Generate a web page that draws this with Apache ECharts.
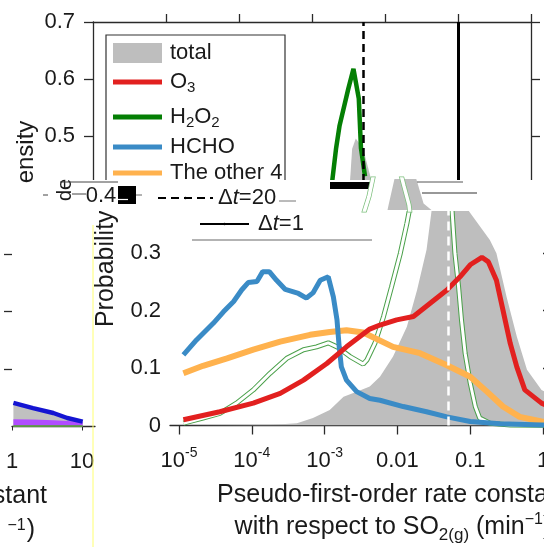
<!DOCTYPE html>
<html><head><meta charset="utf-8">
<script src="https://cdn.jsdelivr.net/npm/echarts@6/dist/echarts.min.js"></script>
<style>html,body{margin:0;padding:0;background:#fff}#c{width:544px;height:547px}</style>
</head><body><div id="c"></div>
<script>
// ---------- DATA ----------
// lower panel: x = log10(rate constant, min^-1), y = probability
const lowerExpTicks = [-5, -4, -3, -2, -1, 0];
const lowerTickLabels = ['10{sup|-5}', '10{sup|-4}', '10{sup|-3}', '0.01', '0.1', '1'];
const probTicks = [0, 0.1, 0.2, 0.3];

const totalX = [-5.1,-4.02,-3.75,-3.38,-3.16,-2.93,-2.74,-2.56,-2.38,-2.24,-2.06,-1.87,-1.73,-1.60,-1.53,-1.45,-1.30,-1.15,-1.05,-0.73,-0.64,-0.50,-0.36,-0.22,-0.02,0.23,0.6,1.0];
const totalY = [0,0.001,0.001,0.004,0.013,0.027,0.050,0.059,0.068,0.085,0.120,0.172,0.236,0.306,0.375,0.45,0.50,0.45,0.379,0.323,0.300,0.224,0.155,0.097,0.062,0.044,0.020,0.010];

const o3X = [-4.94,-4.44,-3.98,-3.61,-3.29,-2.97,-2.70,-2.38,-2.24,-2.01,-1.78,-1.55,-1.32,-1.14,-1.00,-0.84,-0.75,-0.64,-0.55,-0.45,-0.36,-0.25,-0.02,0.3,0.6,1.0];
const o3Y = [0.010,0.024,0.039,0.056,0.079,0.108,0.137,0.168,0.175,0.184,0.190,0.213,0.236,0.259,0.280,0.293,0.285,0.253,0.201,0.143,0.102,0.062,0.039,0.020,0.010,0.004];

const h2o2X = [-4.94,-4.67,-4.44,-4.21,-3.98,-3.75,-3.52,-3.29,-3.11,-2.95,-2.83,-2.65,-2.47,-2.42,-2.31,-2.19,-2.08,-1.96,-1.87,-1.80,-1.72,-1.67,-1.55,-1.48,-1.41,-1.38,-1.32,-1.25,-1.21,-1.16,-1.12,-1.07,-1.00,-0.93,-0.87,-0.73,-0.45,0.0,0.5,1.0];
const h2o2Y = [0.004,0.013,0.021,0.039,0.062,0.091,0.117,0.132,0.137,0.144,0.137,0.120,0.107,0.114,0.143,0.190,0.242,0.300,0.352,0.399,0.479,0.519,0.583,0.618,0.566,0.479,0.430,0.375,0.300,0.242,0.184,0.126,0.074,0.033,0.013,0.004,0.001,0.0003,0.0001,0.0];

const hchoX = [-4.94,-4.76,-4.53,-4.39,-4.25,-4.14,-4.05,-3.93,-3.85,-3.76,-3.66,-3.54,-3.36,-3.25,-3.16,-3.06,-2.95,-2.88,-2.83,-2.80,-2.77,-2.70,-2.56,-2.38,-2.24,-1.92,-1.60,-1.32,-1.00,-0.59,-0.02,0.5,1.0];
const hchoY = [0.123,0.149,0.178,0.198,0.216,0.236,0.249,0.251,0.268,0.268,0.253,0.237,0.230,0.222,0.231,0.253,0.259,0.224,0.184,0.137,0.102,0.079,0.059,0.047,0.044,0.033,0.024,0.015,0.007,0.003,0.001,0.0005,0.0002];

const otherX = [-4.94,-4.67,-4.34,-3.98,-3.61,-3.20,-2.93,-2.70,-2.47,-2.06,-1.69,-1.32,-1.00,-0.77,-0.55,-0.32,-0.02,0.5,1.0];
const otherY = [0.091,0.104,0.117,0.132,0.146,0.158,0.163,0.166,0.162,0.137,0.126,0.105,0.085,0.059,0.033,0.015,0.007,0.002,0.001];

const refRateExp = -1.301; // white dashed reference line (0.05 min^-1)

// upper panel (shifted copy of the same figure): x in decade units from the frame, y = density
const upperXTicks = [1, 2, 3, 4, 5, 6];
const upperYTicks = [0.5, 0.6, 0.7];
const upperH2O2X = [3.27,3.33,3.378,3.497,3.568,3.641,3.671,3.726];
const upperH2O2Y = [0.414,0.479,0.519,0.583,0.618,0.566,0.479,0.430];
const upperTotalX = [3.52,3.55,3.60,3.70,3.82];
const upperTotalY = [0.42,0.478,0.496,0.478,0.42];
const upperDashX = 3.70;
const upperSolidX = 5.0;

// small panel at the lower left
const miniXTicks = [0, 1];
const miniTickLabels = ['1', '10'];
const miniX = [0.02, 0.30, 0.59, 0.79, 1.01];
const miniBlueY = [0.041, 0.032, 0.0235, 0.0148, 0.0084];
const miniPurpleY = [0.0125, 0.012, 0.011, 0.0095, 0.0084];
const miniGreenY = [0.001, 0.001, 0.001, 0.001, 0.001];
const miniYTicks = [0.1, 0.2, 0.3];

// ---------- CHART ----------
const FONT = '"Liberation Sans", Arial, sans-serif';
const TXT = '#1a1a1a';
const AX = '#2a2a2a';
const C = {gray:'#bebebe', red:'#e2201f', green:'#047f04', blue:'#3a8bc6', orange:'#ffb24e'};
const pairs = (xs, ys) => xs.map((x, i) => [x, ys[i]]);

const chart = echarts.init(document.getElementById('c'), null, {renderer:'canvas', width:544, height:547});

function lineSeries(name, xi, yi, xs, ys, color, width, z, extra) {
  return Object.assign({
    name, type:'line', xAxisIndex:xi, yAxisIndex:yi, data:pairs(xs, ys),
    symbol:'none', lineStyle:{color, width}, itemStyle:{color}, z, silent:true, animation:false
  }, extra || {});
}

function itemLegend(name, color, top, h, fmt) {
  return {
    data:[{name, icon:'rect', itemStyle:{color}}], left:113, top, orient:'vertical',
    itemWidth:49, itemHeight:h, padding:0, selectedMode:false, z:5,
    formatter: () => fmt,
    textStyle:{fontSize:22, lineHeight:26, color:TXT, fontFamily:FONT, padding:[0,0,0,3],
      rich:{sub:{fontSize:15, lineHeight:16, verticalAlign:'bottom', fontFamily:FONT, color:TXT}}}
  };
}

const hiddenAxis = {axisLine:{show:false}, axisTick:{show:false}, axisLabel:{show:false}, splitLine:{show:false}};

const option = {
  animation:false,
  backgroundColor:'#fff',
  textStyle:{fontFamily:FONT},
  grid:[
    {left:93, top:22, width:438, height:160, outerBoundsMode:'none', containLabel:false},
    {left:170, top:210, width:445.8, height:215.5, outerBoundsMode:'none', containLabel:false},
    {left:12, top:226, width:83, height:200.5, outerBoundsMode:'none', containLabel:false},
    {left:127, top:179, width:445.8, height:31, outerBoundsMode:'none', containLabel:false}
  ],
  xAxis:[
    {gridIndex:0, type:'value', position:'top', min:0, max:6,
      axisLine:{lineStyle:{color:AX, width:1.3}},
      axisTick:{show:true, inside:false, length:8, customValues:upperXTicks, lineStyle:{color:AX, width:1.3}},
      axisLabel:{show:false}, splitLine:{show:false}},
    {gridIndex:1, type:'value', min:-5.124, max:1,
      axisLine:{onZero:false, lineStyle:{color:AX, width:1.3}},
      axisTick:{show:true, inside:false, length:9, customValues:lowerExpTicks, lineStyle:{color:AX, width:1.3}},
      axisLabel:{show:true, customValues:lowerExpTicks, margin:21, fontSize:22, lineHeight:28, color:TXT, fontFamily:FONT,
        formatter:(v) => lowerTickLabels[lowerExpTicks.indexOf(Math.round(v))],
        rich:{sup:{fontSize:14, lineHeight:16, verticalAlign:'top', color:TXT, fontFamily:FONT}}},
      splitLine:{show:false},
      name:'Pseudo-first-order rate constant\nwith respect to SO{sub|2(g)} (min{sup|−1})',
      nameLocation:'middle', nameGap:54,
      nameTextStyle:{fontSize:25, lineHeight:32, color:TXT, fontFamily:FONT,
        rich:{sub:{fontSize:17, lineHeight:18, verticalAlign:'bottom', color:TXT, fontFamily:FONT},
              sup:{fontSize:16, lineHeight:18, verticalAlign:'top', color:TXT, fontFamily:FONT}}}},
    {gridIndex:2, type:'value', min:0, max:1.186,
      axisLine:{onZero:false, lineStyle:{color:AX, width:1.3}},
      axisTick:{show:true, inside:false, length:4, customValues:miniXTicks, lineStyle:{color:AX}},
      axisLabel:{show:true, customValues:miniXTicks, margin:21, fontSize:22, lineHeight:28, color:TXT, fontFamily:FONT,
        formatter:(v) => miniTickLabels[miniXTicks.indexOf(Math.round(v))]},
      splitLine:{show:false}},
    Object.assign({gridIndex:3, type:'value', min:-5.124, max:1}, hiddenAxis)
  ],
  yAxis:[
    {gridIndex:0, type:'value', min:0.42, max:0.7,
      axisLine:{show:true, lineStyle:{color:AX, width:1.3}},
      axisTick:{show:true, inside:false, length:9, customValues:upperYTicks, lineStyle:{color:AX, width:1.3}},
      axisLabel:{show:true, customValues:upperYTicks, margin:18, fontSize:22, color:TXT, fontFamily:FONT,
        formatter:(v) => v.toFixed(1)},
      splitLine:{show:false}},
    {gridIndex:0, type:'value', position:'right', min:0.42, max:0.7,
      axisLine:{show:true, lineStyle:{color:AX, width:1.3}},
      axisTick:{show:true, inside:false, length:9, customValues:upperYTicks, lineStyle:{color:AX, width:1.3}},
      axisLabel:{show:false}, splitLine:{show:false}},
    {gridIndex:1, type:'value', min:0, max:0.3754,
      axisLine:{show:false},
      axisTick:{show:true, inside:true, length:10, customValues:probTicks, lineStyle:{color:AX, width:1.3}},
      axisLabel:{show:true, customValues:probTicks, margin:9, fontSize:22, color:TXT, fontFamily:FONT,
        formatter:(v) => v === 0 ? '0' : v.toFixed(1)},
      splitLine:{show:false},
      name:'Probability', nameLocation:'middle', nameGap:51,
      nameTextStyle:{fontSize:25, color:TXT, fontFamily:FONT, padding:[0,0,0,98]}},
    {gridIndex:2, type:'value', position:'right', min:0, max:0.349,
      axisLine:{show:false},
      axisTick:{show:true, inside:true, length:8, customValues:miniYTicks, lineStyle:{color:AX, width:1.3}},
      axisLabel:{show:false}, splitLine:{show:false}},
    Object.assign({gridIndex:3, type:'value', min:0.36, max:0.45}, hiddenAxis)
  ],
  legend:[
    {data:[{name:'total', icon:'rect', itemStyle:{color:C.gray}}], left:113, top:40, itemWidth:49, itemHeight:20,
      padding:0, selectedMode:false, z:5,
      textStyle:{fontSize:22, lineHeight:26, color:TXT, fontFamily:FONT, padding:[0,0,0,3]}},
    itemLegend('O3', C.red, 69, 5, 'O{sub|3}'),
    itemLegend('H2O2', C.green, 104, 5, 'H{sub|2}O{sub|2}'),
    itemLegend('HCHO', C.blue, 134, 5, 'HCHO'),
    itemLegend('The other 4', C.orange, 160, 5, 'The other 4'),
    {data:['Δt=20'], left:157, top:186, itemWidth:55, itemHeight:3, padding:0, selectedMode:false, z:20,
      formatter:() => 'Δ{i|t}=20',
      textStyle:{fontSize:22, lineHeight:24, color:TXT, fontFamily:FONT, padding:[0,0,0,0],
        rich:{i:{fontStyle:'italic', fontSize:22, color:TXT, fontFamily:FONT}}}},
    {data:['Δt=1'], left:199, top:212, itemWidth:49, itemHeight:3, padding:0, selectedMode:false, z:20,
      formatter:() => 'Δ{i|t}=1',
      textStyle:{fontSize:22, lineHeight:24, color:TXT, fontFamily:FONT, padding:[0,0,0,4],
        rich:{i:{fontStyle:'italic', fontSize:22, color:TXT, fontFamily:FONT}}}}
  ],
  series:[
    // upper panel
    lineSeries('total', 0, 0, upperTotalX, upperTotalY, C.gray, 0, 2, {
      areaStyle:{color:C.gray, opacity:1},
      markLine:{silent:true, symbol:['none','none'], label:{show:false},
        data:[{xAxis:upperDashX, lineStyle:{color:'#000', width:2.5, type:[8,5]}},
              {xAxis:upperSolidX, lineStyle:{color:'#000', width:3, type:'solid'}}]}
    }),
    lineSeries('H2O2', 0, 0, upperH2O2X, upperH2O2Y, C.green, 4.5, 3),
    // lower panel
    lineSeries('total', 1, 2, totalX, totalY, C.gray, 0, 2, {
      areaStyle:{color:C.gray, opacity:1},
      markLine:{silent:true, symbol:['none','none'], label:{show:false},
        data:[{xAxis:refRateExp, lineStyle:{color:'#fff', width:2.5, type:[9,6]}}]}
    }),
    lineSeries('H2O2', 1, 2, h2o2X, h2o2Y, '#4aa04a', 5, 3),
    lineSeries('H2O2 fill', 1, 2, h2o2X, h2o2Y, '#ffffff', 3, 3),
    lineSeries('The other 4', 1, 2, otherX, otherY, C.orange, 6, 4),
    lineSeries('HCHO', 1, 2, hchoX, hchoY, C.blue, 5, 4),
    lineSeries('O3', 1, 2, o3X, o3Y, C.red, 5, 4),
    lineSeries('Δt=20', 1, 2, [], [], '#000', 2.5, 4, {lineStyle:{color:'#000', width:2.5, type:[8,5]}}),
    lineSeries('Δt=1', 1, 2, [], [], '#000', 2.5, 4),
    // small lower-left panel
    lineSeries('mini total', 2, 3, miniX, miniBlueY, '#1414d2', 4.5, 3, {areaStyle:{color:'#c0c0c0', opacity:1}}),
    lineSeries('mini purple', 2, 3, miniX, miniPurpleY, '#b04cff', 0, 3, {areaStyle:{color:'#b04cff', opacity:1}}),
    lineSeries('mini green', 2, 3, miniX, miniGreenY, '#4fa52a', 1.5, 3),
    // strip fragment (another shifted copy of the lower panel near its peak)
    lineSeries('strip total', 3, 4, totalX, totalY, C.gray, 0, 12, {areaStyle:{color:C.gray, opacity:1}}),
    lineSeries('strip H2O2', 3, 4, h2o2X, h2o2Y, '#7cbf7c', 5, 13),
    lineSeries('strip H2O2 fill', 3, 4, h2o2X, h2o2Y, '#ffffff', 3.5, 13)
  ],
  graphic:[
    {type:'rect', z:3, silent:true, shape:{x:106, y:35, width:179, height:160}, style:{fill:null, stroke:'#333', lineWidth:1.2}},
    {type:'rect', z:10, silent:true, shape:{x:38, y:180, width:506, height:31}, style:{fill:'#fff'}},
    {type:'line', z:11, silent:true, shape:{x1:93, y1:225, x2:93, y2:547}, style:{stroke:'#ffff70', lineWidth:1}},
    {type:'text', z:11, silent:true, x:26, y:152, rotation:Math.PI/2,
      style:{text:'ensity', x:0, y:0, textAlign:'center', textVerticalAlign:'middle', font:'24px ' + FONT, fill:TXT}},
    {type:'text', z:11, silent:true, x:65, y:190, rotation:Math.PI/2,
      style:{text:'de', x:0, y:0, textAlign:'center', textVerticalAlign:'middle', font:'20px ' + FONT, fill:TXT}},
    {type:'text', z:11, silent:true, x:101, y:196,
      style:{text:'0.4', x:0, y:0, textAlign:'center', textVerticalAlign:'middle', font:'22px ' + FONT, fill:TXT}},
    {type:'line', z:11, silent:true, shape:{x1:60, y1:182, x2:118, y2:182}, style:{stroke:'#444', lineWidth:1}},
    {type:'line', z:11, silent:true, shape:{x1:72, y1:194, x2:86, y2:194}, style:{stroke:'#444', lineWidth:1}},
    {type:'line', z:11, silent:true, shape:{x1:43, y1:195, x2:48, y2:195}, style:{stroke:'#444', lineWidth:1}},
    {type:'rect', z:11, silent:true, shape:{x:118, y:186, width:18, height:18}, style:{fill:'#000'}},
    {type:'line', z:12, silent:true, shape:{x1:118, y1:199.5, x2:128, y2:199.5}, style:{stroke:'#fff', lineWidth:1.2}},
    {type:'line', z:11, silent:true, shape:{x1:136, y1:195, x2:142, y2:195}, style:{stroke:'#666', lineWidth:1}},
    {type:'rect', z:11, silent:true, shape:{x:330, y:182, width:42, height:7}, style:{fill:'#000'}},
    {type:'line', z:11, silent:true, shape:{x1:279, y1:201, x2:296, y2:201}, style:{stroke:'#777', lineWidth:1}},
    {type:'line', z:14, silent:true, shape:{x1:417, y1:182, x2:463, y2:182}, style:{stroke:'#555', lineWidth:1}},
    {type:'line', z:14, silent:true, shape:{x1:422, y1:193, x2:477, y2:193}, style:{stroke:'#333', lineWidth:1.2}},
    {type:'line', z:11, silent:true, shape:{x1:192, y1:240, x2:372, y2:240}, style:{stroke:'#9a9a9a', lineWidth:1.5}},
    {type:'text', z:11, silent:true, x:47, y:496,
      style:{text:'constant', x:0, y:0, textAlign:'right', textVerticalAlign:'middle', font:'25px ' + FONT, fill:TXT}},
    {type:'text', z:11, silent:true, x:35, y:530,
      style:{text:'(min{sup|−1})', x:0, y:0, align:'right', verticalAlign:'middle', fontSize:25, fontFamily:FONT, fill:TXT,
        rich:{sup:{fontSize:16, lineHeight:18, verticalAlign:'top', fontFamily:FONT, fill:TXT, padding:[0,1,0,6]}}}}
  ]
};
chart.setOption(option);
</script>
</body></html>
